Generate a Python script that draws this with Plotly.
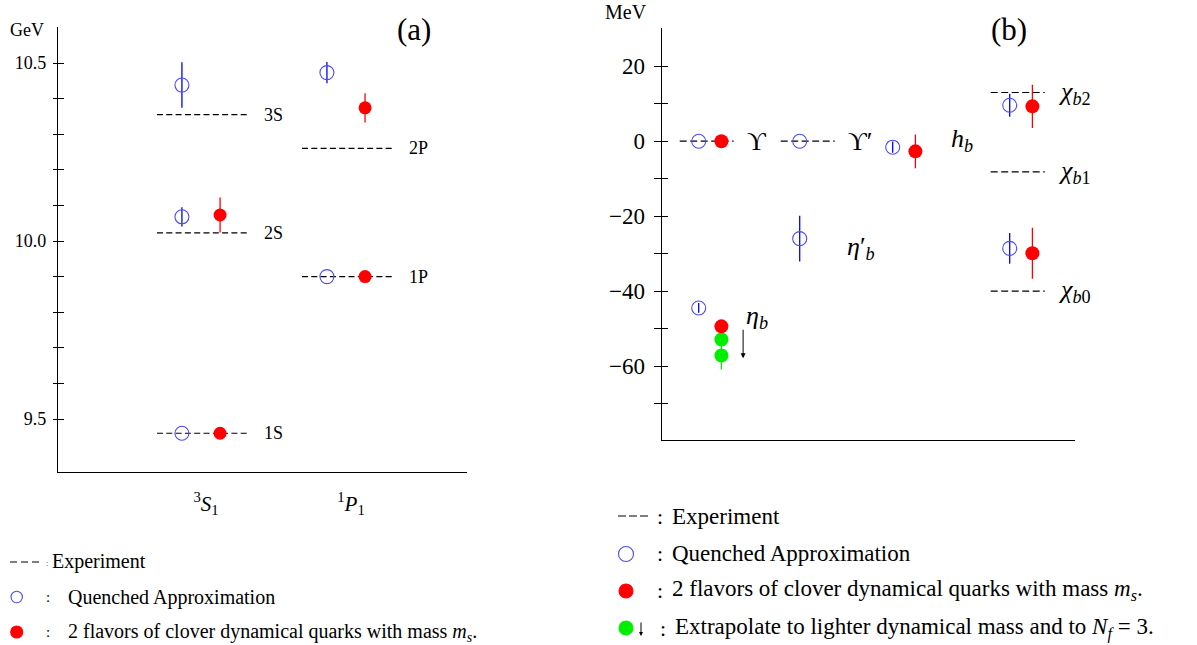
import plotly.graph_objects as go

# ---------------- data : panel (a) ----------------
cat_labels = ["<sup>3</sup><i>S</i><sub>1</sub>", "<sup>1</sup><i>P</i><sub>1</sub>"]
cat_pos = [1, 2]

s_states = ["1S", "2S", "3S"]
s_exp = [9.460, 10.023, 10.355]
s_quen = [9.460, 10.068, 10.438]
s_quen_err = [0.0, 0.027, 0.064]
s_dyn = [9.460, 10.073, None]
s_dyn_err = [0.0, 0.049, 0.0]

p_states = ["1P", "2P"]
p_exp = [9.900, 10.260]
p_quen = [9.900, 10.473]
p_quen_err = [0.0, 0.030]
p_dyn = [9.900, 10.374]
p_dyn_err = [0.0, 0.041]

# ---------------- data : panel (b) ----------------
col_pos = [0.37, 1.38, 2.31, 3.48]           # Upsilon, Upsilon', h_b, chi_b columns
exp_col = [0, 1, 3, 3, 3]
exp_val = [0.0, 0.0, 13.0, -8.2, -40.0]
exp_lab = ["ϒ", "ϒ′", "<i>χ</i><sub><i>b</i>2</sub>", "<i>χ</i><sub><i>b</i>1</sub>", "<i>χ</i><sub><i>b</i>0</sub>"]

q_col = [0, 0, 1, 1, 2, 3, 3]
q_val = [0.0, -44.5, 0.0, -26.0, -1.6, 9.6, -28.6]
q_err = [0.0, 1.3, 0.0, 6.1, 1.5, 3.1, 4.1]

d_col = [0, 0, 2, 3, 3]
d_val = [0.0, -49.4, -2.7, 9.3, -29.9]
d_err = [0.0, 1.0, 4.5, 5.8, 6.8]

g_col = [0, 0]
g_val = [-52.9, -57.2]
g_err = [1.0, 3.7]

arrow_from, arrow_to = -49.9, -57.9

# ---------------- geometry helpers ----------------
W, H = 1197, 645
def px(x): return x / W
def py(y): return 1 - y / H

BLUE_M = "#4a4aff"
BLUE_E = "#0000ff"
RED = "#ff0000"
GREEN = "#00ee00"
FONT = "Liberation Serif"

Q_OFF, D_OFF = -0.166, 0.097
DASH_L, DASH_R, LAB_OFF = -0.338, 0.303, 0.386

fig = go.Figure()

# ---- panel (a) experiment lines
ex, ey = [], []
for c, vals in ((cat_pos[0], s_exp), (cat_pos[1], p_exp)):
    for v in vals:
        ex += [c + DASH_L, c + DASH_R, None]
        ey += [v, v, None]
fig.add_trace(go.Scatter(x=ex, y=ey, mode="lines", line=dict(color="black", width=1.2, dash="6px,3.3px"),
                         xaxis="x", yaxis="y", hoverinfo="skip", showlegend=False))

# ---- panel (a) quenched
qx = [cat_pos[0] + Q_OFF] * len(s_quen) + [cat_pos[1] + Q_OFF] * len(p_quen)
qy = s_quen + p_quen
qe = s_quen_err + p_quen_err
fig.add_trace(go.Scatter(x=qx, y=qy, mode="markers",
                         marker=dict(symbol="circle-open", size=14, color=BLUE_M, line=dict(width=1.1)),
                         error_y=dict(type="data", array=qe, width=0, thickness=1.3, color=BLUE_E),
                         xaxis="x", yaxis="y", showlegend=False))
# ---- panel (a) dynamical
dx = [cat_pos[0] + D_OFF] * len(s_dyn) + [cat_pos[1] + D_OFF] * len(p_dyn)
dy = s_dyn + p_dyn
de = s_dyn_err + p_dyn_err
fig.add_trace(go.Scatter(x=dx, y=dy, mode="markers",
                         marker=dict(symbol="circle", size=13, color=RED),
                         error_y=dict(type="data", array=de, width=0, thickness=1.3, color=RED),
                         xaxis="x", yaxis="y", showlegend=False))

# ---- panel (b) experiment lines
RD_L, RD_R = -0.19, 0.35
ex2, ey2 = [], []
for c, v in zip(exp_col, exp_val):
    ex2 += [col_pos[c] + RD_L, col_pos[c] + RD_R, None]
    ey2 += [v, v, None]
fig.add_trace(go.Scatter(x=ex2, y=ey2, mode="lines", line=dict(color="black", width=1.2, dash="7px,3.5px"),
                         xaxis="x2", yaxis="y2", hoverinfo="skip", showlegend=False))
R_DOFF = 0.227
fig.add_trace(go.Scatter(x=[col_pos[c] for c in q_col], y=q_val, mode="markers",
                         marker=dict(symbol="circle-open", size=14, color=BLUE_M, line=dict(width=1.1)),
                         error_y=dict(type="data", array=q_err, width=0, thickness=1.3, color=BLUE_E),
                         xaxis="x2", yaxis="y2", showlegend=False))
fig.add_trace(go.Scatter(x=[col_pos[c] + R_DOFF for c in g_col], y=g_val, mode="markers",
                         marker=dict(symbol="circle", size=14, color=GREEN),
                         error_y=dict(type="data", array=g_err, width=0, thickness=1.3, color=GREEN),
                         xaxis="x2", yaxis="y2", showlegend=False))
fig.add_trace(go.Scatter(x=[col_pos[c] + R_DOFF for c in d_col], y=d_val, mode="markers",
                         marker=dict(symbol="circle", size=14, color=RED),
                         error_y=dict(type="data", array=d_err, width=0, thickness=1.3, color=RED),
                         xaxis="x2", yaxis="y2", showlegend=False))

# dummy traces for overlay tick axes
fig.add_trace(go.Scatter(x=[None], y=[None], xaxis="x", yaxis="y3", showlegend=False, hoverinfo="skip"))
fig.add_trace(go.Scatter(x=[None], y=[None], xaxis="x2", yaxis="y4", showlegend=False, hoverinfo="skip"))

ann = []
# panel (a) state labels
for c, vals, labs in ((cat_pos[0], s_exp, s_states), (cat_pos[1], p_exp, p_states)):
    for v, l in zip(vals, labs):
        ann.append(dict(x=c + LAB_OFF, y=v, xref="x", yref="y", text=l, showarrow=False,
                        xanchor="left", yanchor="middle", font=dict(size=18, family=FONT, color="black")))
# panel (b) labels
R_LAB = 0.46
for c, v, l in zip(exp_col, exp_val, exp_lab):
    ann.append(dict(x=col_pos[c] + R_LAB, y=v, xref="x2", yref="y2", text=l, showarrow=False,
                    xanchor="left", yanchor="middle", font=dict(size=26, family=FONT, color="black")))
ann.append(dict(x=col_pos[2] + 0.56, y=q_val[4] + 2.0, xref="x2", yref="y2", text="<i>h</i><sub><i>b</i></sub>",
                showarrow=False, xanchor="left", yanchor="middle", font=dict(size=26, family=FONT)))
ann.append(dict(x=col_pos[0] + 0.45, y=q_val[1] - 2.5, xref="x2", yref="y2", text="<i>η</i><sub><i>b</i></sub>",
                showarrow=False, xanchor="left", yanchor="middle", font=dict(size=26, family=FONT)))
ann.append(dict(x=col_pos[1] + 0.45, y=q_val[3] - 2.5, xref="x2", yref="y2", text="<i>η</i>′<sub><i>b</i></sub>",
                showarrow=False, xanchor="left", yanchor="middle", font=dict(size=26, family=FONT)))
# arrow
ann.append(dict(x=col_pos[0] + 0.444, y=arrow_to, ax=col_pos[0] + 0.444, ay=arrow_from,
                xref="x2", yref="y2", axref="x2", ayref="y2", text="", showarrow=True,
                arrowhead=2, arrowsize=1, arrowwidth=1, arrowcolor="black"))

def txt(x, y, t, size, anchor="left", **kw):
    ann.append(dict(x=px(x), y=py(y), xref="paper", yref="paper", text=t, showarrow=False,
                    xanchor=anchor, yanchor="middle", font=dict(size=size, family=FONT, color="black"), **kw))

txt(8, 30, "GeV", 18)
txt(603, 12, "MeV", 20)
txt(395, 29, "(a)", 31)
txt(989, 29, "(b)", 31)

# left legend
txt(44, 563, ":", 8)
txt(50, 561, "Experiment", 20)
txt(44, 597, ":", 15)
txt(66, 597, "Quenched Approximation", 20)
txt(44, 632, ":", 15)
txt(66, 632, "2 flavors of clover dynamical quarks with mass <i>m</i><sub><i>s</i></sub>.", 20)

# right legend
txt(655, 516, ":", 22)
txt(670, 516, "Experiment", 23)
txt(655, 553, ":", 22)
txt(670, 553, "Quenched Approximation", 23)
txt(655, 590, ":", 22)
txt(670, 590, "2 flavors of clover dynamical quarks with mass <i>m</i><sub><i>s</i></sub>.", 23)
ann.append(dict(x=px(641), y=py(636), ax=0, ay=-15, xref="paper", yref="paper",
                axref="pixel", ayref="pixel", text="", showarrow=True,
                arrowhead=2, arrowsize=0.8, arrowwidth=1, arrowcolor="black"))
txt(658, 628, ":", 22)
txt(673, 628, "Extrapolate to lighter dynamical mass and to <i>N</i><sub><i>f</i></sub> = 3.", 23)

shapes = []
def pline(x0, x1, y, dash):
    shapes.append(dict(type="line", xref="paper", yref="paper", x0=px(x0), x1=px(x1), y0=py(y), y1=py(y),
                       line=dict(color="black", width=1.2, dash=dash)))
def pcirc(x, y, r, color, fill):
    shapes.append(dict(type="circle", xref="paper", yref="paper", x0=px(x - r), x1=px(x + r),
                       y0=py(y + r), y1=py(y - r),
                       line=dict(color=color, width=1.1), fillcolor=fill if fill else "rgba(0,0,0,0)"))
pline(10, 39, 562, "7px,4px")
pcirc(16.7, 597, 5.7, BLUE_M, None)
pcirc(16.7, 632, 6, RED, RED)
pline(618, 648, 516, "8px,3px")
pcirc(626, 554, 7.5, BLUE_M, None)
pcirc(626, 591, 7, RED, RED)
pcirc(626, 628, 7, GREEN, GREEN)

axis_common = dict(showgrid=False, zeroline=False, linecolor="black", linewidth=1.3)

fig.update_layout(
    width=W, height=H, margin=dict(l=0, r=0, t=0, b=0),
    paper_bgcolor="white", plot_bgcolor="rgba(0,0,0,0)",
    font=dict(family=FONT, color="black"),
    annotations=ann, shapes=shapes,
    xaxis=dict(domain=[px(58), px(467)], range=[1 - (206 - 58) / 145, 1 + (467 - 206) / 145],
               anchor="y", showline=True, tickmode="array", tickvals=cat_pos, ticktext=cat_labels,
               ticks="", tickfont=dict(size=21, family=FONT), ticklabelstandoff=12, **axis_common),
    yaxis=dict(domain=[py(472.4), py(27.4)], range=[9.35, 10.6], anchor="x", showline=True,
               tickmode="array", tickvals=[9.5, 10.0, 10.5], ticktext=["9.5", "10.0", "10.5"],
               ticks="outside", ticklen=4, tickcolor="black", tickwidth=1.1,
               minor=dict(tickmode="array", tickvals=[9.6, 9.7, 9.8, 9.9, 10.1, 10.2, 10.3, 10.4],
                          ticks="outside", ticklen=4, tickcolor="black", tickwidth=1.1),
               tickfont=dict(size=18, family=FONT), ticklabelstandoff=3, **axis_common),
    yaxis3=dict(overlaying="y", anchor="x", range=[9.35, 10.6], showline=False, showticklabels=False,
                tickmode="array", tickvals=[9.5, 10.0, 10.5], ticks="inside", ticklen=6, tickcolor="black", tickwidth=1.1,
                minor=dict(tickmode="array", tickvals=[9.6, 9.7, 9.8, 9.9, 10.1, 10.2, 10.3, 10.4],
                           ticks="inside", ticklen=6, tickcolor="black", tickwidth=1.1),
                showgrid=False, zeroline=False),
    xaxis2=dict(domain=[px(661.7), px(1075)], range=[0, (1075 - 661.7) / 100], anchor="y2",
                showline=True, showticklabels=False, ticks="", **axis_common),
    yaxis2=dict(domain=[py(439.5), py(28.05)], range=[-79.6, 30.2], anchor="x2", showline=True,
                tickmode="array", tickvals=[-60, -40, -20, 0, 20],
                ticks="outside", ticklen=7, tickcolor="black", tickwidth=1.1,
                minor=dict(tickmode="array", tickvals=[-70, -50, -30, -10, 10],
                           ticks="outside", ticklen=7, tickcolor="black", tickwidth=1.1),
                tickfont=dict(size=23, family=FONT), ticklabelstandoff=4, **axis_common),
    yaxis4=dict(overlaying="y2", anchor="x2", range=[-79.6, 30.2], showline=False, showticklabels=False,
                tickmode="array", tickvals=[-60, -40, -20, 0, 20], ticks="inside", ticklen=6,
                tickcolor="black", tickwidth=1.1,
                minor=dict(tickmode="array", tickvals=[-70, -50, -30, -10, 10],
                           ticks="inside", ticklen=6, tickcolor="black", tickwidth=1.1),
                showgrid=False, zeroline=False),
)

fig.write_html("out.html", config={"displayModeBar": False},
               post_script="document.body.style.margin='0px';document.body.style.overflow='hidden';")
